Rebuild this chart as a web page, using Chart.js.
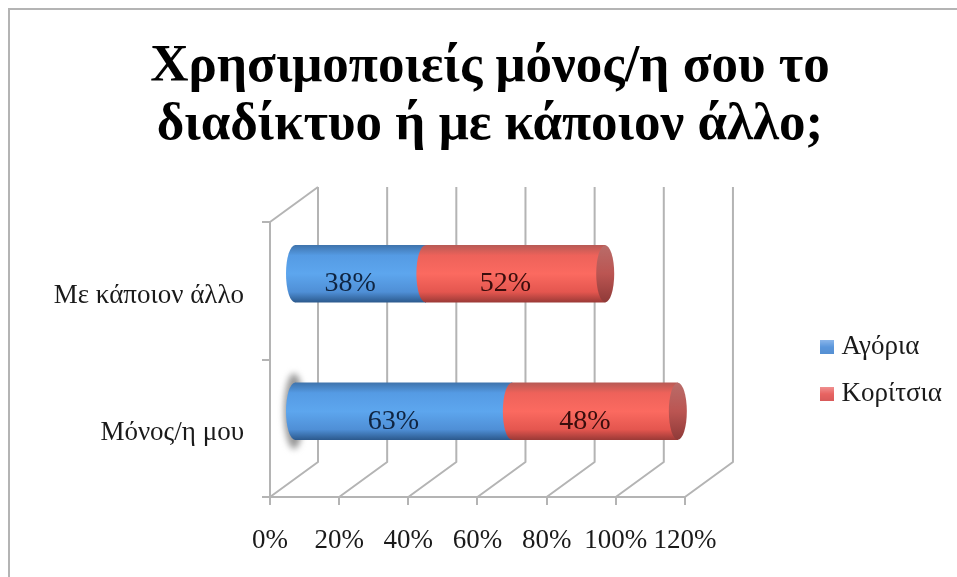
<!DOCTYPE html>
<html><head><meta charset="utf-8">
<script src="https://cdn.jsdelivr.net/npm/chart.js@4"></script>
<style>
html,body{margin:0;padding:0;background:#fff;width:957px;height:577px;overflow:hidden}
#frame{position:absolute;left:8px;top:8px;width:960px;height:600px;border:2px solid #b4b4b4;box-sizing:border-box}
#wrap{position:absolute;left:0;top:0;width:957px;height:577px}
</style></head><body>
<div id="frame"></div>
<div id="wrap"><canvas id="c" width="957" height="577"></canvas></div>
<script>
const titleLines = ['Χρησιμοποιείς μόνος/η σου το', 'διαδίκτυο ή με κάποιον άλλο;'];
const categories = ['Με κάποιον άλλο', 'Μόνος/η μου'];
const boys = [38, 63];
const girls = [52, 48];
const seriesNames = ['Αγόρια', 'Κορίτσια'];
const axisMax = 120;
const axisStep = 20;

const FONT = '"Liberation Serif", serif';
const LINE = '#b4b4b4';
const DEPTH_X = 48, DEPTH_Y = 35;
const BAR_DX = 24, BAR_DY = -17;
const BAR_T = 57, CAP_RX = 9;

const palette = [
  {swatch:['#8ab6ea','#5b97dc','#5590d2'], stops:['#3f74ad','#559be4','#5da6ee','#4f8fd6','#2c5a8e'], cap:null},
  {swatch:['#f09090','#e86462','#d85a5a'], stops:['#b85a55','#ee625a','#fb6a60','#e4564f','#9c3a37'], cap:['#b96c69','#bb5552','#8f3a38']}
];
function grad(ctx, y0, y1, stops){
  const g = ctx.createLinearGradient(0,y0,0,y1);
  const pos = [0,0.18,0.5,0.82,1];
  stops.forEach((s,i)=>g.addColorStop(pos[i],s));
  return g;
}
function barFill(ci){
  return c=>{
    const p = palette[ci];
    if (c.dataIndex===undefined || !c.chart.chartArea) return p.swatch[1];
    const y = c.chart.scales.y.getPixelForValue(c.dataIndex);
    return grad(c.chart.ctx, y-BAR_T/2, y+BAR_T/2, p.stops);
  };
}
function swatch(ci){
  const cv = document.createElement('canvas');
  cv.width = 14; cv.height = 14;
  const x = cv.getContext('2d');
  const g = x.createLinearGradient(0,0,0,14);
  palette[ci].swatch.forEach((s,i)=>g.addColorStop(i/2,s));
  x.fillStyle = g; x.fillRect(0,0,14,14);
  return cv;
}
const ellipse=(ctx,x,y,rx,ry)=>{ctx.beginPath();ctx.ellipse(x,y,rx,ry,0,0,Math.PI*2);ctx.fill();};

const depthPlugin = {
  id:'depth',
  beforeDatasetsDraw(chart){
    const {ctx, scales:{x,y}} = chart;
    const top = y.top, bottom = y.bottom;
    ctx.save();
    ctx.strokeStyle = LINE; ctx.lineWidth = 2;
    ctx.lineJoin='round';
    x.ticks.forEach((t,i)=>{
      const px = x.getPixelForTick(i);
      ctx.beginPath();
      ctx.moveTo(px,bottom);
      ctx.lineTo(px+DEPTH_X,bottom-DEPTH_Y);
      ctx.lineTo(px+DEPTH_X,top-DEPTH_Y);
      ctx.stroke();
    });
    ctx.beginPath();
    ctx.moveTo(x.left,top);
    ctx.lineTo(x.left+DEPTH_X,top-DEPTH_Y);
    ctx.stroke();
    ctx.restore();
    ctx.save();
    ctx.translate(BAR_DX,BAR_DY);
    const b0 = chart.getDatasetMeta(0).data[1];
    ctx.save();
    ctx.filter='blur(3px)';
    ctx.fillStyle='#999';
    ellipse(ctx,b0.base-1,b0.y,10,38);
    ctx.restore();
  },
  afterDatasetsDraw(chart){
    const {ctx} = chart;
    const m0 = chart.getDatasetMeta(0).data, m1 = chart.getDatasetMeta(1).data;
    m0.forEach((b,i)=>{
      const r = m1[i], ry = BAR_T/2;
      ctx.fillStyle = grad(ctx,b.y-ry,b.y+ry,palette[0].stops);
      ellipse(ctx,b.base,b.y,CAP_RX,ry);
      ctx.fillStyle = grad(ctx,b.y-ry,b.y+ry,palette[1].stops);
      ellipse(ctx,b.x,b.y,CAP_RX,ry);
      const cg = ctx.createLinearGradient(0,b.y-ry,0,b.y+ry);
      cg.addColorStop(0,palette[1].cap[0]);cg.addColorStop(.5,palette[1].cap[1]);cg.addColorStop(1,palette[1].cap[2]);
      ctx.fillStyle = cg;
      ellipse(ctx,r.x,r.y,CAP_RX,ry);
    });
    ctx.font = '28px '+FONT;
    ctx.textAlign='center';ctx.textBaseline='middle';
    [[m0,boys,'#0f2440'],[m1,girls,'#3a0d0c']].forEach(([m,vals,col])=>{
      m.forEach((b,i)=>{
        ctx.fillStyle=col;
        ctx.fillText(vals[i]+'%',(b.base+b.x)/2-10,b.y+10);
      });
    });
    ctx.restore();
  }
};

new Chart(document.getElementById('c'),{
  type:'bar',
  plugins:[depthPlugin],
  data:{
    labels:categories,
    datasets:[
      {label:seriesNames[0],data:boys,backgroundColor:barFill(0),borderWidth:0,barThickness:BAR_T,stack:'s'},
      {label:seriesNames[1],data:girls,backgroundColor:barFill(1),borderWidth:0,barThickness:BAR_T,stack:'s'}
    ]
  },
  options:{
    indexAxis:'y',
    responsive:false,
    animation:false,
    devicePixelRatio:1,
    layout:{padding:{top:12,left:28,right:5,bottom:0}},
    plugins:{
      tooltip:{enabled:false},
      title:{display:true,text:titleLines,color:'#000',
        font:{family:FONT,size:53,weight:'bold',lineHeight:'58px'},
        padding:{top:26,bottom:68}},
      legend:{display:true,position:'right',fullSize:false,
        title:{display:true,text:' ',font:{size:10,lineHeight:'12px'},padding:{top:5,bottom:5}},
        labels:{color:'#1a1a1a',font:{family:FONT,size:27},boxWidth:1,boxHeight:14,padding:20,usePointStyle:true,
          generateLabels:()=>seriesNames.map((t,i)=>({text:t,pointStyle:swatch(i),fillStyle:palette[i].swatch[1],strokeStyle:'transparent',lineWidth:0,datasetIndex:i,fontColor:'#1a1a1a'}))}}
    },
    scales:{
      x:{type:'linear',stacked:true,min:0,max:axisMax,
        ticks:{stepSize:axisStep,callback:v=>v+'%',color:'#1a1a1a',font:{family:FONT,size:27},padding:20,maxRotation:0,autoSkip:false},
        grid:{drawOnChartArea:false,drawTicks:true,tickLength:8,color:LINE,lineWidth:2},
        border:{display:true,color:LINE,width:2},
        afterFit:s=>{s.height=80;}},
      y:{type:'category',stacked:true,
        ticks:{callback:(v,i)=>['',categories[i]],color:'#1a1a1a',font:{family:FONT,size:27,lineHeight:'10px'},padding:18},
        grid:{offset:true,drawOnChartArea:false,drawTicks:true,tickLength:8,color:LINE,lineWidth:2},
        border:{display:true,color:LINE,width:2},
        afterFit:s=>{s.width=242;}},
      spacer:{type:'linear',position:'right',display:true,
        ticks:{display:false},grid:{display:false},border:{display:false},
        afterFit:s=>{s.width=122;}}
    }
  }
});
</script>
</body></html>
